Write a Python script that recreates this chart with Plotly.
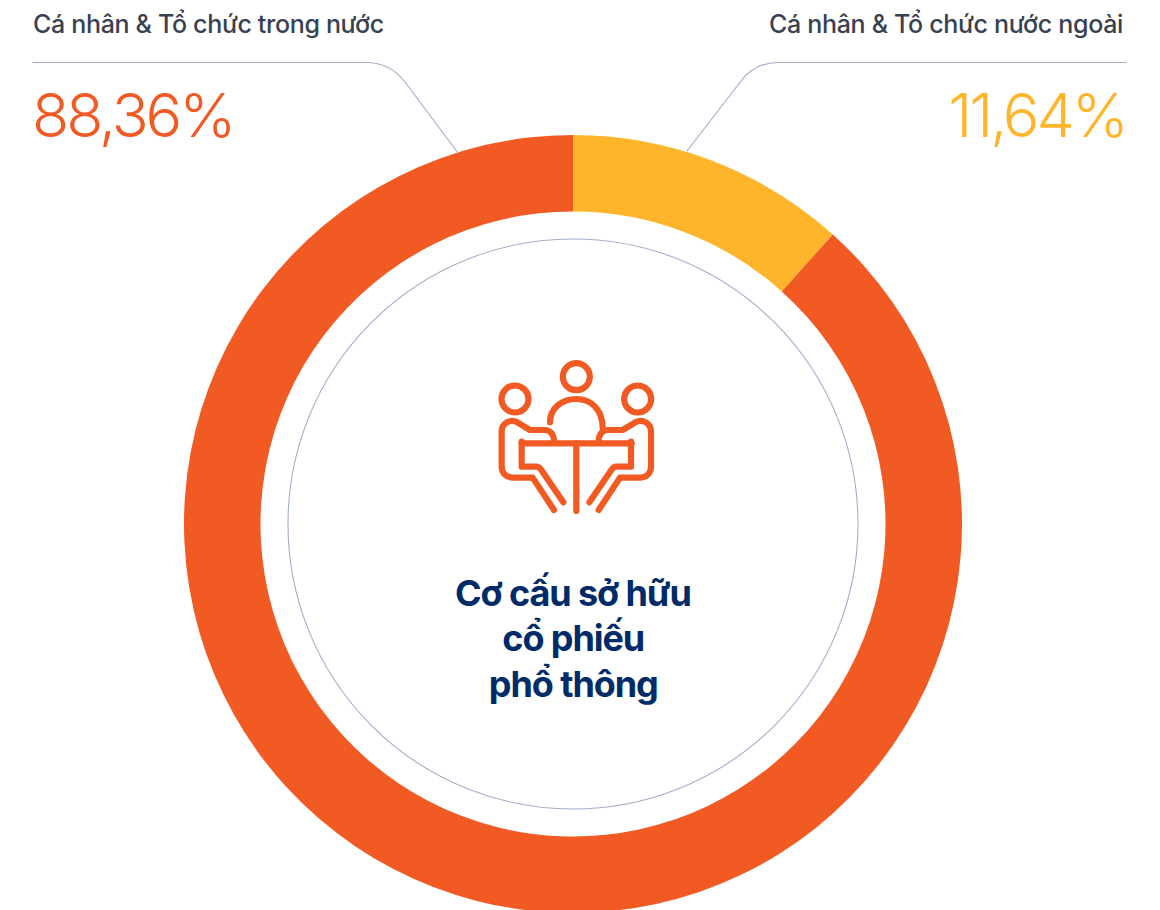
import plotly.graph_objects as go

categories = ["Cá nhân & Tổ chức nước ngoài", "Cá nhân & Tổ chức trong nước"]
values = [11.64, 88.36]
colors = ["#FFB52B", "#F25A24"]
value_labels = ["11,64%", "88,36%"]
center_title = ["Cơ cấu sở hữu", "cổ phiếu", "phổ thông"]

W, H = 1160, 914
CX, CY, R = 573, 524, 389
HOLE_R = 312.5
LINE = "#A3AEC9"
DARK = "#374151"
NAVY = "#002B69"
FONT = "Inter"


def fx(x):
    return x / W


def fy(y):
    return 1 - y / H


def path(cmds):
    out = []
    for c in cmds:
        if isinstance(c, str):
            out.append(c)
        else:
            out.append(f"{fx(c[0]):.6f},{fy(c[1]):.6f}")
    return " ".join(out)


def zi(x, y):
    return (480 + x / 3, 345 + y / 3)


def zm(x, y):
    return zi(578 - x, y)


fig = go.Figure(go.Pie(
    labels=categories, values=values, sort=False, direction="clockwise", rotation=0,
    hole=HOLE_R / R, marker=dict(colors=colors, line=dict(width=0)),
    textinfo="none", hoverinfo="label+percent", showlegend=False,
    domain=dict(x=[(CX - R) / W, (CX + R) / W], y=[(H - CY - R) / H, (H - CY + R) / H]),
))

shapes = []


def line_shape(cmds, color=LINE, width=1.2):
    shapes.append(dict(type="path", xref="paper", yref="paper", path=path(cmds),
                       line=dict(color=color, width=width), layer="above"))


def circle(cx, cy, r, color, width):
    shapes.append(dict(type="circle", xref="paper", yref="paper",
                       x0=fx(cx - r), x1=fx(cx + r), y0=fy(cy + r), y1=fy(cy - r),
                       line=dict(color=color, width=width), layer="above"))


# leader lines
line_shape(["M", (33, 62.5), "L", (366, 62.5), "C", (382, 62.5), (395, 69), (405, 82), "L", (458, 153)])
line_shape(["M", (1126, 62.5), "L", (778, 62.5), "C", (762, 62.5), (750, 69), (741, 81), "L", (687, 151)])

# inner thin ring
circle(CX, CY, 285, LINE, 1.1)

# icon
ORANGE = colors[1]
IW = 6.2
for (x, y) in [(289, 95), (105, 162), (473, 162)]:
    c = zi(x, y)
    circle(c[0], c[1], 13.5, ORANGE, IW)

line_shape(["M", zi(210, 232), "C", zi(210, 190), zi(245, 162), zi(289, 162),
            "C", zi(335, 162), zi(368, 195), zi(368, 250)], ORANGE, IW)
line_shape(["M", zi(125, 295), "L", zi(455, 295)], ORANGE, IW)
line_shape(["M", zi(289, 295), "L", zi(289, 498)], ORANGE, IW)

for p in (zi, zm):
    line_shape(["M", p(222, 288), "C", p(222, 268), p(210, 255), p(195, 255),
                "L", p(150, 255), "L", p(112, 232),
                "C", p(90, 220), p(65, 235), p(65, 260),
                "L", p(65, 365), "C", p(65, 385), p(80, 398), p(100, 398),
                "L", p(158, 398), "L", p(222, 495)], ORANGE, IW)
    line_shape(["M", p(125, 290), "L", p(125, 365), "L", p(170, 365),
                "C", p(176, 365), p(180, 369), p(184, 375), "L", p(250, 472)], ORANGE, IW)

annotations = []


def text(x, y, s, size, color, anchor="left", weight=400):
    annotations.append(dict(
        x=fx(x), y=fy(y), xref="paper", yref="paper", text=s, showarrow=False,
        xanchor=anchor, yanchor="middle", align=anchor, borderpad=0,
        font=dict(family=FONT, size=size, color=color, weight=weight),
    ))


text(31.5, 24, categories[1], 25, DARK, "left", 500)
text(1124, 24, categories[0], 25, DARK, "right", 500)
text(31, 115, value_labels[1], 61, colors[1], "left", 300)
text(1127, 115, value_labels[0], 61, colors[0], "right", 300)
for s, y in zip(center_title, [593, 638, 684]):
    text(CX, y, s, 36, NAVY, "center", 700)

fig.update_layout(
    width=W, height=H, margin=dict(l=0, r=0, t=0, b=0),
    paper_bgcolor="white", plot_bgcolor="white",
    shapes=shapes, annotations=annotations, showlegend=False,
)

POST = """
document.documentElement.style.overflow='hidden';
document.body.style.margin='0';
document.body.style.overflow='hidden';
document.querySelectorAll('.shapelayer path').forEach(function(p){
  p.style.strokeLinecap='round'; p.style.strokeLinejoin='round';
});
document.querySelectorAll('.annotation-text').forEach(function(t){
  var s=parseFloat(getComputedStyle(t).fontSize);
  t.style.letterSpacing = s>50 ? '-0.05em' : (s>30 ? '-0.03em' : '-0.013em');
});
"""
fig.write_html("out.html", config={"displayModeBar": False}, post_script=POST)
